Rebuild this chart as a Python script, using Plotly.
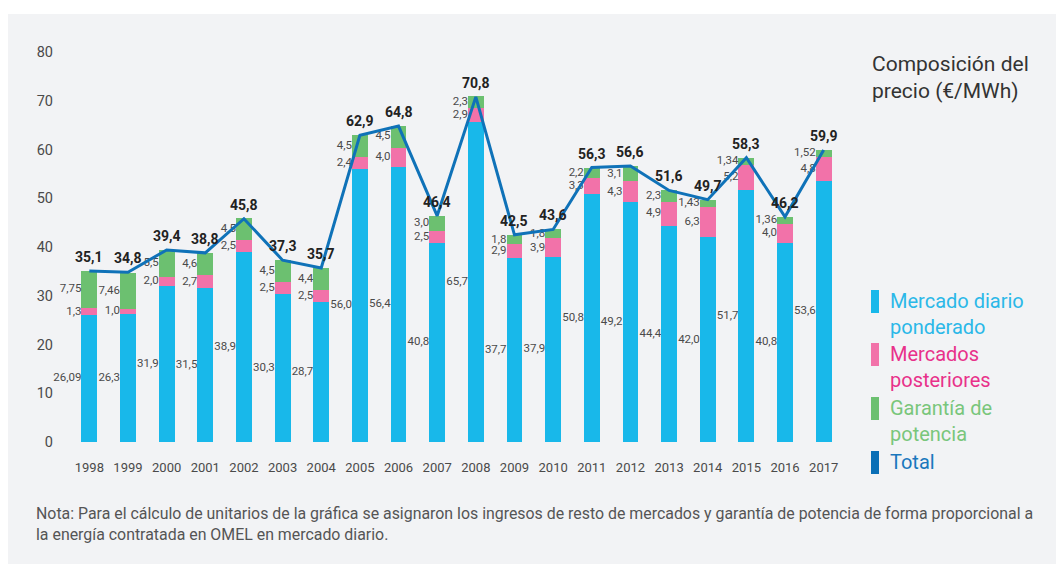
import plotly.graph_objects as go

years = [1998, 1999, 2000, 2001, 2002, 2003, 2004, 2005, 2006, 2007,
         2008, 2009, 2010, 2011, 2012, 2013, 2014, 2015, 2016, 2017]
mercado_diario = [26.09, 26.3, 31.9, 31.5, 38.9, 30.3, 28.7, 56.0, 56.4, 40.8,
                  65.7, 37.7, 37.9, 50.8, 49.2, 44.4, 42.0, 51.7, 40.8, 53.6]
mercados_posteriores = [1.3, 1.0, 2.0, 2.7, 2.5, 2.5, 2.5, 2.4, 4.0, 2.5,
                        2.9, 2.9, 3.9, 3.3, 4.3, 4.9, 6.3, 5.2, 4.0, 4.8]
garantia_potencia = [7.75, 7.46, 5.5, 4.6, 4.5, 4.5, 4.4, 4.5, 4.5, 3.0,
                     2.3, 1.8, 1.8, 2.2, 3.1, 2.3, 1.43, 1.34, 1.36, 1.52]
total = [35.1, 34.8, 39.4, 38.8, 45.8, 37.3, 35.7, 62.9, 64.8, 46.4,
         70.8, 42.5, 43.6, 56.3, 56.6, 51.6, 49.7, 58.3, 46.2, 59.9]
y_ticks = [0, 10, 20, 30, 40, 50, 60, 70, 80]

series_names = ["Mercado diario<br>ponderado", "Mercados<br>posteriores",
                "Garantía de<br>potencia", "Total"]
title_text = "Composición del<br>precio (€/MWh)"
note_text = ("Nota: Para el cálculo de unitarios de la gráfica se asignaron los ingresos de resto "
             "de mercados y garantía de potencia de forma proporcional a<br>la energía contratada "
             "en OMEL en mercado diario.")

# styles
C_BLUE = "#18b8ea"
C_PINK = "#f272a9"
C_GREEN = "#6cc070"
C_LINE = "#0f72b8"
LEG_TEXT = ["#2bb8e8", "#e8318a", "#79c67b", "#1a78bd"]
LEG_MARK = [C_BLUE, C_PINK, C_GREEN, "#0a6fb6"]
BG = "#f2f3f5"
FONT = "Roboto, Liberation Sans, Arial, sans-serif"

OFF = 8  # page body margin
W, H = 1056, 556
L, R, T, B = 62, 221, 44, 122
pw, ph = W - L - R, H - T - B


def px(x):
    return (x - OFF - L) / pw


def py(y):
    return (H - B - (y - OFF)) / ph


def fmt(v):
    return str(v).replace(".", ",")


BW = 0.41
fig = go.Figure()
for vals, col in [(mercado_diario, C_BLUE), (mercados_posteriores, C_PINK), (garantia_potencia, C_GREEN)]:
    fig.add_trace(go.Bar(x=years, y=vals, marker=dict(color=col, line=dict(width=0)),
                         width=BW, showlegend=False, hoverinfo="skip"))

# segment labels (left of bars, at mid of segment)
mid_blue = [d / 2 for d in mercado_diario]
mid_pink = [d + p / 2 for d, p in zip(mercado_diario, mercados_posteriores)]
mid_green = [d + p + g / 2 for d, p, g in zip(mercado_diario, mercados_posteriores, garantia_potencia)]
lab_x = [yr - BW / 2 for yr in years]
for mids, vals in [(mid_blue, mercado_diario), (mid_pink, mercados_posteriores), (mid_green, garantia_potencia)]:
    fig.add_trace(go.Scatter(x=lab_x, y=mids, mode="text", text=[fmt(v) for v in vals],
                             textposition="middle left",
                             textfont=dict(family=FONT, size=11.5, color="#4a4a4a"),
                             showlegend=False, hoverinfo="skip", cliponaxis=False))

fig.add_trace(go.Scatter(x=years, y=total, mode="lines",
                         line=dict(color=C_LINE, width=3), showlegend=False, cliponaxis=False,
                         hoverinfo="skip"))

shapes = [
    dict(type="rect", xref="paper", yref="paper", x0=px(0), x1=px(1100), y0=py(14), y1=py(0),
         fillcolor="white", line=dict(width=0), layer="below"),
]
annotations = [
    dict(text=title_text, xref="paper", yref="paper", x=px(870), y=py(50), xanchor="left",
         yanchor="top", align="left", showarrow=False,
         font=dict(family=FONT, size=21, color="#333333")),
    dict(text=note_text, xref="paper", yref="paper", x=px(34), y=py(502), xanchor="left",
         yanchor="top", align="left", showarrow=False,
         font=dict(family=FONT, size=15.9, color="#555555")),
]
for yr, tv in zip(years, total):
    annotations.append(dict(text="<b>" + fmt(tv) + "</b>", x=yr, y=tv, xref="x", yref="y",
                            yshift=14, showarrow=False, xanchor="center", yanchor="middle",
                            font=dict(family=FONT, size=14, color="#222222")))

leg_top = [290, 343, 397, 451]
for i, name in enumerate(series_names):
    t = leg_top[i]
    shapes.append(dict(type="rect", xref="paper", yref="paper", x0=px(871), x1=px(879),
                       y0=py(t + 23), y1=py(t), fillcolor=LEG_MARK[i], line=dict(width=0)))
    annotations.append(dict(text=name, xref="paper", yref="paper", x=px(888), y=py(t - 3),
                            xanchor="left", yanchor="top", align="left", showarrow=False,
                            font=dict(family=FONT, size=20, color=LEG_TEXT[i])))

fig.update_layout(
    width=W, height=H, margin=dict(l=L, r=R, t=T, b=B),
    paper_bgcolor=BG, plot_bgcolor=BG, barmode="stack", showlegend=False,
    shapes=shapes, annotations=annotations,
    xaxis=dict(range=[1997.5, 2017.5], tickmode="array", tickvals=years,
               ticktext=[str(y) for y in years], showgrid=False, zeroline=False,
               showline=False, ticks="", ticklabelstandoff=16,
               tickfont=dict(family=FONT, size=13, color="#4a4a4a")),
    yaxis=dict(range=[0, 80], tickmode="array", tickvals=y_ticks,
               ticktext=[str(v) for v in y_ticks], showgrid=False, zeroline=False,
               showline=False, ticks="", ticklabelstandoff=16,
               tickfont=dict(family=FONT, size=14.5, color="#4a4a4a")),
)
fig.write_html("out.html")
